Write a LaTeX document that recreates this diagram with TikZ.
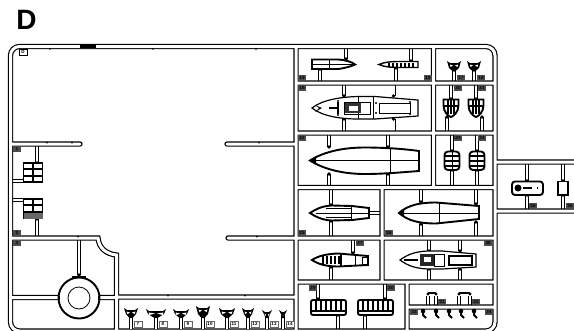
\documentclass[tikz,border=0pt]{standalone}
\usepackage{fontspec}
\setmainfont{Liberation Sans}
\begin{document}
\begin{tikzpicture}[x=1pt,y=-1pt,
    tag/.style={
        fill=black!70,
        inner sep=0.3pt,
        minimum width=8pt,
        minimum height=6pt,
        font=\fontsize{4.5}{4.5}\selectfont\bfseries
    },
    stub/.style={
        draw,
        line width=0.9pt,
        double=white,
        double distance=2.2pt
    },
    part/.style={
        draw,
        line width=1.2pt,
        fill=white
    },
    heavy/.style={
        part,
        line width=1.9pt
    },
    fine/.style={
        draw,
        line width=0.8pt
    },
    title/.style={
        font=\fontsize{28}{28}\selectfont\bfseries
    }
]

\clip (0,0) rectangle (574,330);

%------------------------------------------------
% Coladas
%------------------------------------------------
\def\coladas{
    [rounded corners=9pt] (10.5,331) -- (10.5,46.5) -- (495,46.5) -- (495,331) -- cycle
    [sharp corners]
    (296,46.5) -- (296,331)
    (433.5,46.5) -- (433.5,187.5)
    (382,187.5) -- (382,282)
    (407,282) -- (407,331)
    (296,83) -- (495,83)
    (296,133) -- (495,133)
    (296,187.5) -- (495,187.5)
    (296,238) -- (495,238)
    (296,282) -- (495,282)
    (408,307) -- (495,307)
    (495,162) -- (580,162)
    (495,211) -- (580,211)
    (10.5,144) -- (80,144)
    (227,144) -- (296,144)
    (228,238) -- (296,238)
    (10.5,238) -- (98,238) .. controls (99,248) and (106,254) .. (116.5,255) -- (116.5,331)
    (116.5,297) -- (296,297)
    (10.5,297.5) -- (60,297.5)
    (98,297.5) -- (116.5,297.5)
    (74,46.5) -- (101,46.5)
}

%------------------------------------------------
% Bebederos
%------------------------------------------------
\foreach \x/\a/\b in {
    346/48/59, 411/48/61, 320/83/69, 396/83/68, 454/83/70, 474/83/70,
    344/85/96, 393.5/85/96, 344/132/119, 393.5/132/119,
    451/85/99, 476/85/99, 447/132/117, 482/132/117,
    329/135/147, 388/135/147, 329/186/174, 388/186/174,
    452/135/151, 477/135/151, 452/186/170, 477/186/170,
    331/189/205, 331/237/221, 421/189/202, 421/237/224, 476/189/204, 476/237/222,
    353/240/253, 331/281/267, 429/240/251, 429/281/269, 460/240/251, 460/281/269,
    318/284/299, 385/284/299, 338/330/315, 365/330/315,
    527/163/181, 527/210/195, 563/163/181, 563/210/195,
    37/144/163, 37/238/219, 79/238/275} {
    \draw[stub] (\x,\a) -- (\x,\b);
    \fill (\x,\b) circle (1.8pt);
}
\foreach \y/\b in {181/23, 200/23} {
    \draw[stub] (13,\y) -- (\b,\y);
}
\draw[stub] (369,213) -- (381,213);
\foreach \x in {428,436,459,470} {
    \draw[stub] (\x,307) -- (\x,296);
}

\draw[line width=5.3pt, line cap=round] \coladas;
\draw[white, line width=3pt, line cap=round] \coladas;

% marca superior y muescas
\fill (80,44.8) rectangle (96,48.2);
\foreach \x in {50,153,256} {
    \fill (\x,48.8) circle (1pt);
}
\foreach \x/\y in {47/142.6, 72/142.6, 259/142.6, 78/236.6, 257/236.6, 168/295.6, 245/295.6} {
    \fill (\x,\y) circle (0.9pt);
}

%------------------------------------------------
% Rejillas de la izquierda
%------------------------------------------------
\foreach \y in {163,199} {
    \draw[heavy, fill=white] (23.5,\y) rectangle (42.5,\y+19);
    \draw[line width=1.4pt] (33,\y) -- (33,\y+19) (23.5,\y+6) -- (42.5,\y+6) (23.5,\y+13) -- (42.5,\y+13);
}
\fill[black!60] (23.5,213) rectangle (42.5,219);

%------------------------------------------------
% Rueda
%------------------------------------------------
\draw[heavy, fill=white] (79,298) circle (20.5);
\draw[fine] (79,298) circle (11);
\fill (72,275.5) rectangle (86,278);
\fill (58,295.5) rectangle (60,300);
\fill (98,295.5) rectangle (100,300);

%------------------------------------------------
% Soportes inferiores
%------------------------------------------------
\foreach \x/\w/\h/\n in {
    131/7/10/7, 156/10/9/8, 181/8/9/9, 203/7/12/10,
    227/8/10/11, 248/6/10/12, 267/5/8/13, 283/4/8/14} {
    \draw[stub] (\x,329) -- (\x,316);
    \fill (\x-\w,318-\h) -- (\x-\w+3,318-\h+2) -- (\x+\w-3,318-\h+2) -- (\x+\w,318-\h) -- (\x+\w-2,314) -- (\x+1.5,318) -- (\x-1.5,318) -- (\x-\w+2,314) -- cycle;
    \fill[white] (\x-\w+2.5,318-\h+3.5) -- (\x-1,318-\h+4.5) -- (\x-\w+3.5,318-\h+6) -- cycle;
    \fill[white] (\x+\w-2.5,318-\h+3.5) -- (\x+1,318-\h+4.5) -- (\x+\w-3.5,318-\h+6) -- cycle;
    \node[tag, fill=white, draw=black!60, line width=0.4pt] (s\n) at (\x+7,324) {\n};
}

%------------------------------------------------
% Soportes de la derecha
%------------------------------------------------
\foreach \x in {454,474} {
    \fill (\x-7,61) -- (\x-4,63) -- (\x+4,63) -- (\x+7,61) -- (\x+5,68) -- (\x+1.5,71) -- (\x-1.5,71) -- (\x-5,68) -- cycle;
    \fill[white] (\x-4,64.5) -- (\x-1,65.5) -- (\x-3.5,67) -- cycle;
    \fill[white] (\x+4,64.5) -- (\x+1,65.5) -- (\x+3.5,67) -- cycle;
}

%------------------------------------------------
% Cascos, fila 1
%------------------------------------------------
\draw[heavy] (312,59.5) -- (338,59.5) .. controls (346,60) and (352,62) .. (355,64.5) .. controls (352,66) and (346,68) .. (338,69) -- (312,69) -- cycle;
\draw[fine] (312,64.5) -- (355,64.5) (329,59.5) -- (329,69);
\draw[heavy, line width=1.4pt] (379,64.5) .. controls (384,62) and (392,61.5) .. (400,61.5) -- (418,61.5) -- (418,67.5) -- (400,67.5) .. controls (392,67.5) and (384,67) .. (379,64.5) -- cycle;
\foreach \x in {389,393,397,401,405,409,413} {
    \draw[line width=1.6pt] (\x,62.5) -- (\x,66.5);
}

%------------------------------------------------
% Casco con cubierta, fila 2
%------------------------------------------------
\draw[part] (312,108) .. controls (322,100) and (340,97) .. (358,96.5) -- (375,96.5) -- (418,100) -- (418,116) -- (375,119) -- (358,119) .. controls (340,119) and (322,116) .. (312,108) -- cycle;
\draw[fine] (358,96.5) -- (358,119) (373,96.5) -- (373,119);
\draw[fine] (379,103) rectangle (410,113);
\draw[fine] (344,102) rectangle (370,114);
\fill[black!80] (345,103) rectangle (361,113);
\fill[white] (349,106) rectangle (358,111);
\draw[line width=1.6pt] (329,108) -- (339,108) (338,102) -- (338,114);
\fill (315,105) -- (322,108) -- (315,112) -- (319,108) -- cycle;
\foreach \x/\y in {338/101, 338/115, 376/103, 376/113, 410/102, 410/114} {
    \fill (\x,\y) circle (1.1pt);
}

%------------------------------------------------
% Timones y rejillas redondeadas
%------------------------------------------------
\foreach \x in {451,476} {
    \draw[heavy] (\x-7.5,99.5) -- (\x+7.5,99.5) -- (\x+7.5,105) .. controls (\x+7.5,112) and (\x+3,116) .. (\x,117) .. controls (\x-3,116) and (\x-7.5,112) .. (\x-7.5,105) -- cycle;
    \foreach \d in {-3,0,3} {
        \draw[line width=1.2pt] (\x+\d,100) -- (\x+\d,114);
    }
    \draw[line width=1.2pt] (\x-7,106) -- (\x+7,106);
    \draw[heavy, rounded corners=3.5pt] (\x+1-7.5,151.5) rectangle (\x+1+7.5,170);
    \foreach \d in {156,161,166} {
        \draw[line width=1.3pt] (\x+1-7,\d) -- (\x+1+7,\d);
    }
    \draw[fine] (\x+1,152) -- (\x+1,170);
}

%------------------------------------------------
% Casco grande, fila 3
%------------------------------------------------
\draw[heavy] (310,160.5) .. controls (325,151) and (345,147.5) .. (365,147.5) .. controls (385,147.5) and (405,149) .. (419,151) -- (419,171) .. controls (405,172) and (385,174) .. (365,174) .. controls (345,174) and (325,170) .. (310,160.5) -- cycle;
\draw[fine] (310,160.5) -- (419,160.5) (390,148) -- (390,174);
\fill (309,160.5) -- (316,156.5) -- (316,164.5) -- cycle;

%------------------------------------------------
% Cascos, fila 4
%------------------------------------------------
\draw[heavy] (310,213) .. controls (316,209) and (322,206) .. (332,205.5) -- (352,206) -- (369,208) -- (369,218) -- (352,220) -- (332,220.5) .. controls (322,220) and (316,217) .. (310,213) -- cycle;
\draw[line width=1.6pt] (326,208.5) -- (351,208.5) (326,217.5) -- (351,217.5);
\draw[fine] (316,213) -- (369,213) (351,206) -- (351,220);
\draw[heavy] (399,213) .. controls (408,205) and (420,202.5) .. (436,202.5) -- (479,206) -- (479,219) -- (436,223.5) .. controls (420,223.5) and (408,221) .. (399,213) -- cycle;
\draw[fine] (404,213) -- (479,213) (439,203) -- (439,223);
\fill (398,213) -- (404,209.5) -- (404,216.5) -- cycle;

%------------------------------------------------
% Cascos, fila 5
%------------------------------------------------
\draw[heavy] (312,260) .. controls (318,256) and (326,254) .. (338,253.5) -- (368,256) -- (368,265) -- (338,266.5) .. controls (326,266.5) and (318,264) .. (312,260) -- cycle;
\foreach \x in {323,327,331,335,339} {
    \draw[line width=1.6pt] (\x,256) -- (\x,264);
}
\draw[line width=1.8pt] (341,253.5) -- (341,266.5);
\draw[fine] (355,256) -- (355,265) (362,257) rectangle (367,264);
\draw[part] (400,260) .. controls (408,254) and (416,251.5) .. (428,251) -- (442,251) -- (476,254) -- (476,267) -- (442,269) -- (428,269) .. controls (416,268.5) and (408,266) .. (400,260) -- cycle;
\fill[black!85] (420,254) rectangle (434,266);
\fill[white] (424,257) rectangle (431,262);
\draw[fine] (434,254) rectangle (444,266);
\draw[heavy] (449,256) rectangle (472,265);
\draw[line width=2pt] (404,260) -- (418,260);

%------------------------------------------------
% Rejillas de abajo
%------------------------------------------------
\foreach \x in {311,358} {
    \draw[heavy, rounded corners=2pt] (\x,300) rectangle (\x+35,315);
    \foreach \d in {5,10,15,20,25,30} {
        \draw[line width=1.3pt] (\x+\d,301) -- (\x+\d,311);
    }
    \draw[line width=1.3pt] (\x,311) -- (\x+35,311);
}

%------------------------------------------------
% Piezas pequeñas
%------------------------------------------------
\foreach \x/\e in {428/436, 459/470} {
    \draw[line width=1.3pt] (\x,293) -- (\e,293);
    \fill (\x,294) circle (1.6pt) (\e,294) circle (1.6pt);
}
\foreach \x in {423,436,449,461,474} {
    \draw[line width=2pt] (\x,310) -- (\x,315) -- (\x+3,318);
    \fill (\x,311) circle (2.3pt);
}

%------------------------------------------------
% Ramal derecho
%------------------------------------------------
\draw[heavy, rounded corners=3pt] (512,181.5) rectangle (543,195);
\fill (518,188) circle (3.5pt);
\draw[line width=1.5pt] (523,188) -- (538,188);
\fill[white] (532,185) rectangle (537,191);
\draw[heavy] (558,181.5) rectangle (568,195);

%------------------------------------------------
% Etiquetas
%------------------------------------------------
\node[tag, fill=white, draw, line width=0.6pt] (d) at (23,52) {D};
\foreach \n/\x/\y in {
    15/302/78, 16/428/78, 17/461/78, 18/481/78,
    19/302/88, 20/458/88, 21/482/88,
    22/302/138, 23/458/138, 24/482/138,
    25/302/233, 26/389/233, 27/360/243, 28/488/243,
    29/313/288, 30/391/288, 31/442/302, 32/476/302,
    33/414/312, 34/489/312, 35/533/206, 36/570/206,
    1/17/149, 2/17/233, 3/17/243} {
    \node[tag] (e\n) at (\x,\y) {\n};
}

%------------------------------------------------
% Título
%------------------------------------------------
\node[title, inner sep=0pt] (letra) at (26.5,20) {D};

\end{tikzpicture}
\end{document}
